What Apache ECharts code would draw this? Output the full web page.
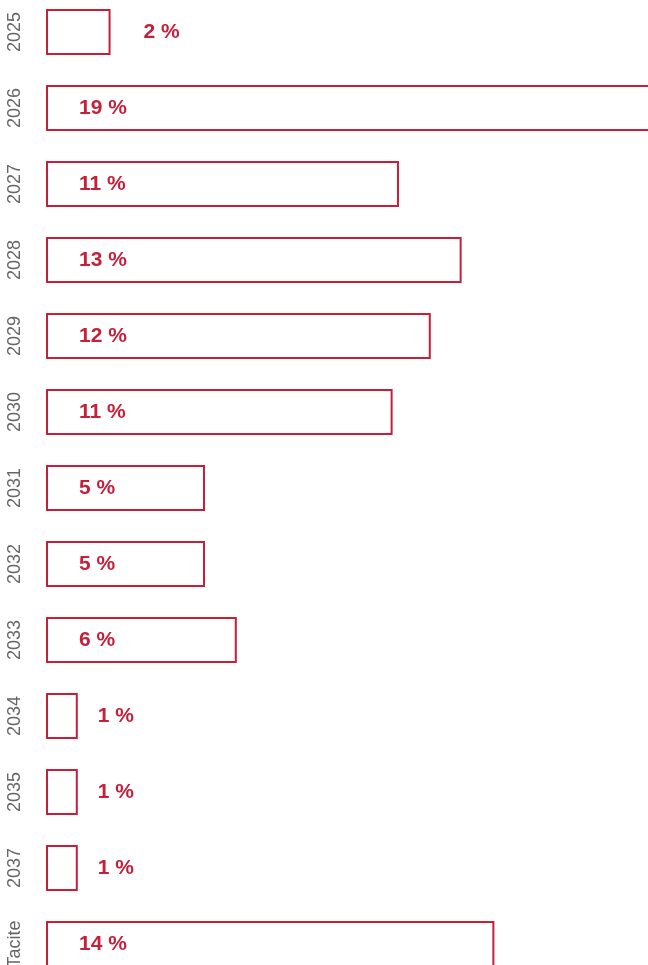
<!DOCTYPE html>
<html>
<head>
<meta charset="utf-8">
<script src="https://cdn.jsdelivr.net/npm/echarts@6/dist/echarts.min.js"></script>
<style>
  html, body { margin: 0; padding: 0; background: #fff; }
  #chart { width: 648px; height: 965px; }
</style>
</head>
<body>
<div id="chart"></div>
<script>
// années d'échéance
var categories = ['2025', '2026', '2027', '2028', '2029', '2030', '2031', '2032', '2033', '2034', '2035', '2037', 'Tacite']
// part en %
var values = [2.03, 19.0, 11.1, 13.07, 12.1, 10.9, 5.0, 5.0, 6.0, 1.0, 1.0, 1.0, 14.1]

var red = '#c61f3a'

var seriesData = values.map(function (v) {
  var item = { value: v }
  if (v < 3) {
    // petites barres : étiquette à droite
    item.label = { position: 'right', distance: v < 1.5 ? 20 : 33 }
  }
  return item
})

var chart = echarts.init(document.getElementById('chart'))
chart.setOption({
  animation: false,
  grid: {
    left: 46,
    top: -6,
    width: 636,
    height: 988,
    outerBoundsMode: 'none',
    containLabel: false
  },
  xAxis: {
    type: 'value',
    min: 0,
    max: 20,
    show: false,
    splitLine: { show: false }
  },
  yAxis: {
    type: 'category',
    data: categories,
    inverse: true,
    axisLine: { show: false },
    axisTick: { show: false },
    axisLabel: {
      rotate: 90,
      margin: 22,
      color: '#666',
      fontSize: 18,
      fontFamily: 'Liberation Sans, Arial, sans-serif'
    }
  },
  series: [{
    type: 'bar',
    data: seriesData,
    barWidth: 46,
    itemStyle: {
      color: '#fff',
      borderColor: red,
      borderWidth: 2
    },
    label: {
      show: true,
      position: 'insideLeft',
      distance: 33,
      color: red,
      fontSize: 21,
      fontWeight: 'bold',
      fontFamily: 'Liberation Sans, Arial, sans-serif',
      formatter: function (p) {
        return Math.round(p.value) + ' %'
      }
    }
  }]
})
</script>
</body>
</html>
